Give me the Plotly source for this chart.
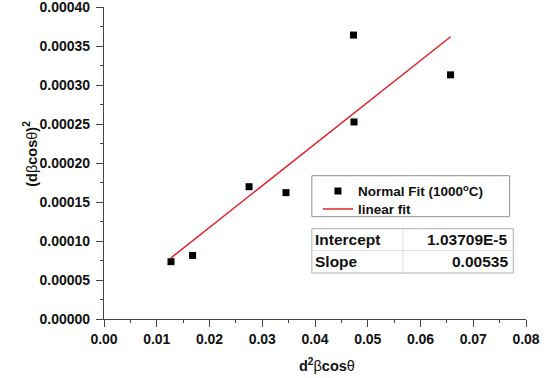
import plotly.graph_objects as go

# Data
x_vals = [0.0127, 0.0168, 0.0275, 0.0345, 0.0473, 0.0474, 0.0657]
y_vals = [0.0000735, 0.0000815, 0.0001696, 0.0001620, 0.0003640, 0.0002526, 0.0003130]
fit_intercept = 1.03709e-5
fit_slope = 0.00535
x_ticks = [0.00, 0.01, 0.02, 0.03, 0.04, 0.05, 0.06, 0.07, 0.08]
y_ticks = [0.00000, 0.00005, 0.00010, 0.00015, 0.00020, 0.00025, 0.00030, 0.00035, 0.00040]
table_labels = ["Intercept", "Slope"]
table_values = ["1.03709E-5", "0.00535"]

FONT = "Liberation Sans, Arial, sans-serif"
AX = "#444444"
TXT = "#111111"

fit_x = [min(x_vals), max(x_vals)]
fit_y = [fit_intercept + fit_slope * v for v in fit_x]

fig = go.Figure()
fig.add_trace(go.Scatter(
    x=x_vals, y=y_vals, mode="markers",
    marker=dict(symbol="square", size=7, color="black"),
    name="<b>Normal Fit (1000<sup>o</sup>C)</b>", legend="legend",
))
fig.add_trace(go.Scatter(
    x=fit_x, y=fit_y, mode="lines",
    line=dict(color="#e0202a", width=1.5),
    name="<b>linear fit</b>", legend="legend2",
))

axis_common = dict(
    showgrid=False, zeroline=False, showline=True, linecolor=AX, linewidth=1.2,
    ticks="outside", ticklen=7, tickwidth=1.2, tickcolor=AX, automargin=False,
    tickfont=dict(family=FONT, size=14, color=TXT), ticklabeloverflow="allow",
    minor=dict(ticks="outside", ticklen=3, tickwidth=1, tickcolor=AX),
)

fig.update_xaxes(
    range=[-1e-7, 0.08 + 1e-7], tickvals=x_ticks,
    ticktext=["<b>%.2f</b>" % v for v in x_ticks],
    minor_dtick=0.005, **axis_common,
)
fig.update_yaxes(
    range=[-1e-10, 0.0004 + 1e-10], tickvals=y_ticks,
    ticktext=["<b>%.5f</b>" % v for v in y_ticks],
    minor_dtick=0.000025, ticklabelstandoff=3, **axis_common,
)

# legend frame
fig.add_shape(type="rect", xref="paper", yref="paper", x0=0.4925, x1=0.9611, y0=0.328, y1=0.4593,
              line=dict(color="#909090", width=1), fillcolor="white", layer="above")

# table (intercept / slope)
tx0, tx1, tmid = 0.4925, 0.9699, 0.7083
ty0, ty1, tym = 0.1474, 0.2894, 0.2199
border = "#b0b0b0"
fig.add_shape(type="rect", xref="paper", yref="paper", x0=tx0, x1=tx1, y0=ty0, y1=ty1,
              line=dict(color=border, width=1), fillcolor="white", layer="above")
fig.add_shape(type="line", xref="paper", yref="paper", x0=tx0, x1=tx1, y0=tym, y1=tym,
              line=dict(color="#dddddd", width=1))
fig.add_shape(type="line", xref="paper", yref="paper", x0=tmid, x1=tmid, y0=ty0, y1=ty1,
              line=dict(color="#dddddd", width=1))
rows_y = [(ty1 + tym) / 2, (tym + ty0) / 2]
for lab, val, ry in zip(table_labels, table_values, rows_y):
    fig.add_annotation(xref="paper", yref="paper", x=tx0 + 0.003, y=ry, text="<b>%s</b>" % lab,
                       showarrow=False, xanchor="left", yanchor="middle",
                       font=dict(family=FONT, size=15.5, color=TXT))
    fig.add_annotation(xref="paper", yref="paper", x=tx1 - 0.008, y=ry, text="<b>%s</b>" % val,
                       showarrow=False, xanchor="right", yanchor="middle",
                       font=dict(family=FONT, size=15.5, color=TXT))

# axis titles
fig.add_annotation(xref="paper", yref="paper", x=0.528, y=-0.146,
                   text="<b>d<sup>2</sup></b>β<b>cos</b>θ", showarrow=False,
                   xanchor="center", yanchor="middle",
                   font=dict(family=FONT, size=14.5, color=TXT))
fig.add_annotation(xref="paper", yref="paper", x=-0.175, y=0.53,
                   text="<b>(d</b>β<b>cos</b>θ<b>)<sup>2</sup></b>", showarrow=False,
                   textangle=-90, xanchor="center", yanchor="middle",
                   font=dict(family=FONT, size=14.5, color=TXT))

leg_common = dict(xanchor="left", yanchor="top", bgcolor="rgba(0,0,0,0)", borderwidth=0,
                  font=dict(family=FONT, size=13.5, color=TXT), tracegroupgap=0, itemwidth=30)

fig.update_layout(
    width=548, height=378,
    margin=dict(l=104, r=22, t=7, b=59),
    paper_bgcolor="white", plot_bgcolor="white",
    showlegend=True,
    legend=dict(x=0.507, y=0.459, **leg_common),
    legend2=dict(x=0.507, y=0.4016, **leg_common),
)

fig.write_html("out.html", config={"displayModeBar": False},
               post_script="document.body.style.margin='0';")
